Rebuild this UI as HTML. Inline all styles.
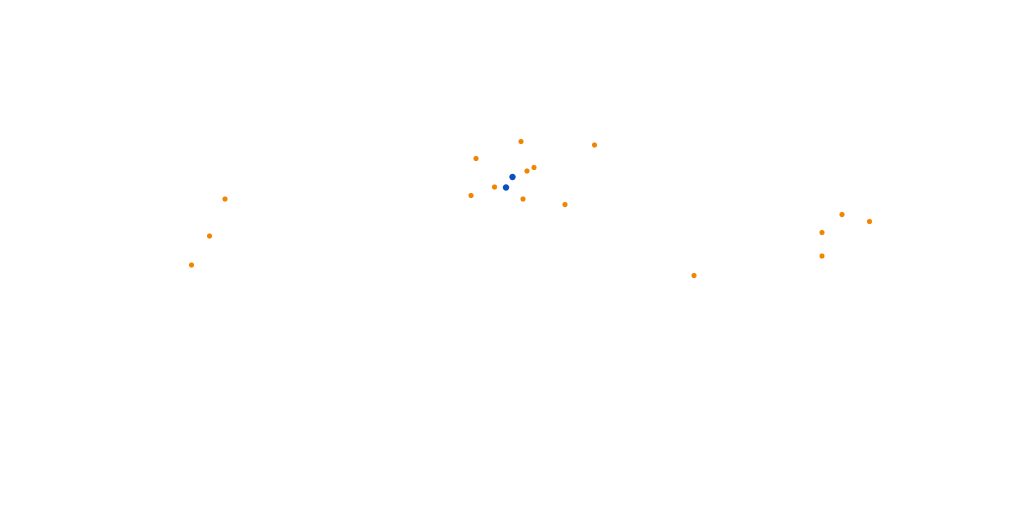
<!DOCTYPE html>
<html><head><meta charset="utf-8"><style>
html,body{margin:0;padding:0;background:#fff;width:1024px;height:505px;overflow:hidden}
</style></head><body>
<svg width="1024" height="505" xmlns="http://www.w3.org/2000/svg">
<g fill="#f28500">
<circle cx="521" cy="141.5" r="2.6"/>
<circle cx="594.5" cy="145" r="2.6"/>
<circle cx="476" cy="158.5" r="2.6"/>
<circle cx="534" cy="167.5" r="2.6"/>
<circle cx="527" cy="171" r="2.6"/>
<circle cx="494.5" cy="187" r="2.6"/>
<circle cx="471" cy="195.5" r="2.6"/>
<circle cx="523" cy="199" r="2.6"/>
<circle cx="565" cy="204.5" r="2.6"/>
<circle cx="225" cy="199" r="2.6"/>
<circle cx="209.5" cy="236" r="2.6"/>
<circle cx="191.5" cy="265" r="2.6"/>
<circle cx="842" cy="214.5" r="2.6"/>
<circle cx="869.5" cy="221.5" r="2.6"/>
<circle cx="822" cy="232.5" r="2.6"/>
<circle cx="822" cy="256" r="2.6"/>
<circle cx="694" cy="275.5" r="2.6"/>
</g>
<g fill="#0a50c0">
<circle cx="512.5" cy="177" r="3.2"/>
<circle cx="506" cy="187.5" r="3.2"/>
</g>
</svg>
</body></html>
